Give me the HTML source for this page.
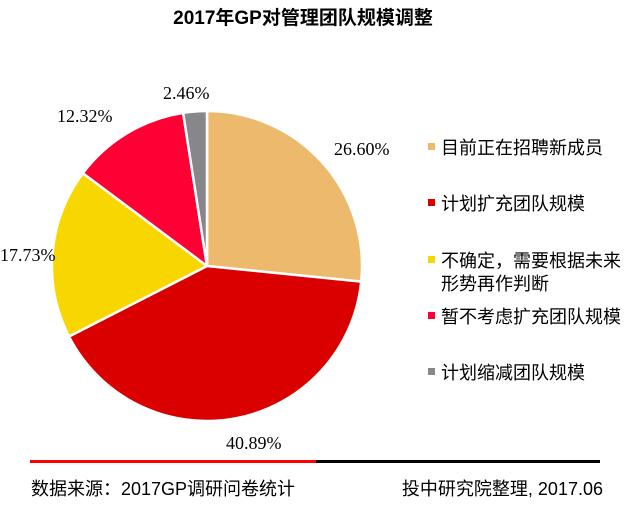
<!DOCTYPE html>
<html><head><meta charset="utf-8"><style>
body{margin:0;background:#fff;}
svg{display:block;}
</style></head><body>
<svg width="636" height="506" xmlns="http://www.w3.org/2000/svg">
<text x="303" y="24" text-anchor="middle" font-family="Liberation Sans, Noto Sans CJK SC, sans-serif" font-size="19" font-weight="bold" fill="#000">2017年GP对管理团队规模调整</text>
<g stroke="#fff" stroke-width="2.5" stroke-linejoin="round">
<path d="M207,266 L207,111 A155,155 0 0 1 361.2,281.6 Z" fill="#ECB96D"/>
<path d="M207,266 L361.2,281.6 A155,155 0 0 1 68.95,336.5 Z" fill="#DB0000"/>
<path d="M207,266 L68.95,336.5 A155,155 0 0 1 82.87,173.2 Z" fill="#F8D700"/>
<path d="M207,266 L82.87,173.2 A155,155 0 0 1 183.13,112.85 Z" fill="#FF0035"/>
<path d="M207,266 L183.13,112.85 A155,155 0 0 1 207,111 Z" fill="#87868B"/>
</g>
<g font-family="Liberation Serif, serif" font-size="18" fill="#000">
<text x="334" y="155">26.60%</text>
<text x="226" y="449">40.89%</text>
<text x="0" y="261">17.73%</text>
<text x="57" y="122">12.32%</text>
<text x="163" y="99">2.46%</text>
</g>
<g font-family="Liberation Sans, Noto Sans CJK SC, sans-serif" font-size="18" fill="#000">
<rect x="428" y="143" width="7" height="7" fill="#ECB96D"/><text x="441" y="154">目前正在招聘新成员</text>
<rect x="428" y="199" width="7" height="7" fill="#DB0000"/><text x="441" y="210">计划扩充团队规模</text>
<rect x="428" y="256" width="7" height="7" fill="#F8D700"/><text x="441" y="267">不确定，需要根据未来</text><text x="441" y="290">形势再作判断</text>
<rect x="428" y="312" width="7" height="7" fill="#FF0035"/><text x="441" y="323">暂不考虑扩充团队规模</text>
<rect x="428" y="368" width="7" height="7" fill="#87868B"/><text x="441" y="379">计划缩减团队规模</text>
</g>
<rect x="30" y="460" width="286" height="3" fill="#FF0000"/>
<rect x="316" y="460" width="284" height="3" fill="#000"/>
<g font-family="Liberation Sans, Noto Sans CJK SC, sans-serif" font-size="18" fill="#000">
<text x="31" y="495">数据来源：2017GP调研问卷统计</text>
<text x="603" y="495" text-anchor="end">投中研究院整理, 2017.06</text>
</g>
</svg>
</body></html>
